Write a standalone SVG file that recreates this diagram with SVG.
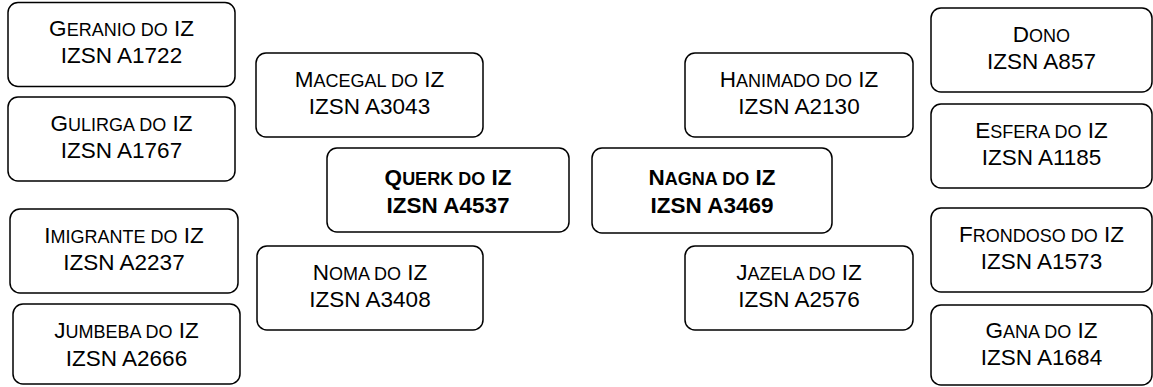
<svg xmlns="http://www.w3.org/2000/svg" width="1153" height="387" viewBox="0 0 1153 387">
<style>
.box{fill:#fff;stroke:#000;stroke-width:1.5}
text{font-family:"Liberation Sans",Arial,sans-serif;font-size:22.5px;fill:#000;text-anchor:middle}
.b{font-weight:bold}
.sc{font-size:18px}
</style>
<rect width="1153" height="387" fill="#fff"/>
<g id="connectors"></g>
<g id="geranio"><rect class="box" x="8" y="2.5" width="227" height="84" rx="10"/>
<text x="121.5" y="36">G<tspan class="sc">ERANIO DO</tspan> IZ</text><text x="121.5" y="63">IZSN A1722</text></g>
<g id="gulirga"><rect class="box" x="8" y="97" width="227" height="84" rx="10"/>
<text x="121.5" y="130.5">G<tspan class="sc">ULIRGA DO</tspan> IZ</text><text x="121.5" y="157.5">IZSN A1767</text></g>
<g id="imigrante"><rect class="box" x="10" y="209" width="228" height="84" rx="10"/>
<text x="124" y="242.5">I<tspan class="sc">MIGRANTE DO</tspan> IZ</text><text x="124" y="269.5">IZSN A2237</text></g>
<g id="jumbeba"><rect class="box" x="13" y="304" width="227" height="80" rx="10"/>
<text x="126.5" y="338">J<tspan class="sc">UMBEBA DO</tspan> IZ</text><text x="126.5" y="365.5">IZSN A2666</text></g>
<g id="macegal"><rect class="box" x="256" y="53" width="227" height="84" rx="10"/>
<text x="369.5" y="86.5">M<tspan class="sc">ACEGAL DO</tspan> IZ</text><text x="369.5" y="113.5">IZSN A3043</text></g>
<g id="querk"><rect class="box" x="327" y="148" width="242" height="84" rx="10"/>
<text class="b" x="448" y="185">Q<tspan class="sc">UERK DO</tspan> IZ</text><text class="b" x="448" y="213">IZSN A4537</text></g>
<g id="noma"><rect class="box" x="257" y="246" width="226" height="84" rx="10"/>
<text x="370" y="279.5">N<tspan class="sc">OMA DO</tspan> IZ</text><text x="370" y="306.5">IZSN A3408</text></g>
<g id="hanimado"><rect class="box" x="685" y="53" width="228" height="84" rx="10"/>
<text x="799" y="86.5">H<tspan class="sc">ANIMADO DO</tspan> IZ</text><text x="799" y="113.5">IZSN A2130</text></g>
<g id="nagna"><rect class="box" x="592" y="148" width="240" height="85" rx="10"/>
<text class="b" x="712" y="185">N<tspan class="sc">AGNA DO</tspan> IZ</text><text class="b" x="712" y="213">IZSN A3469</text></g>
<g id="jazela"><rect class="box" x="685" y="246" width="228" height="84" rx="10"/>
<text x="799" y="279.5">J<tspan class="sc">AZELA DO</tspan> IZ</text><text x="799" y="306.5">IZSN A2576</text></g>
<g id="dono"><rect class="box" x="931" y="8" width="221" height="84" rx="10"/>
<text x="1041.5" y="41.5">D<tspan class="sc">ONO</tspan></text><text x="1041.5" y="68.5">IZSN A857</text></g>
<g id="esfera"><rect class="box" x="931" y="104" width="221" height="84" rx="10"/>
<text x="1041.5" y="137.5">E<tspan class="sc">SFERA DO</tspan> IZ</text><text x="1041.5" y="164.5">IZSN A1185</text></g>
<g id="frondoso"><rect class="box" x="931" y="208" width="221" height="84" rx="10"/>
<text x="1041.5" y="241.5">F<tspan class="sc">RONDOSO DO</tspan> IZ</text><text x="1041.5" y="268.5">IZSN A1573</text></g>
<g id="gana"><rect class="box" x="931" y="305" width="221" height="80" rx="10"/>
<text x="1041.5" y="338">G<tspan class="sc">ANA DO</tspan> IZ</text><text x="1041.5" y="365">IZSN A1684</text></g>
</svg>
